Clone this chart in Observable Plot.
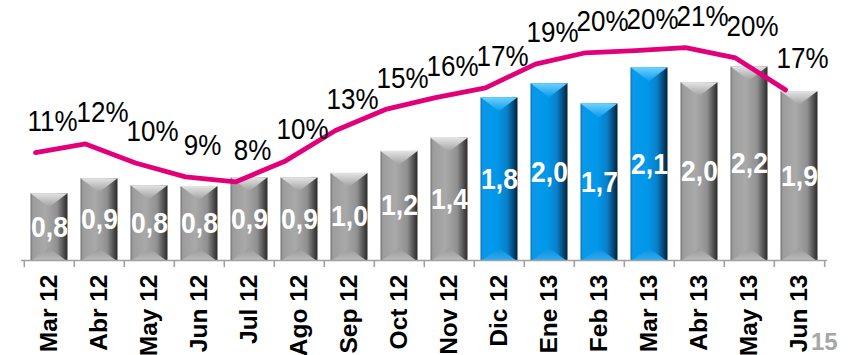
<!DOCTYPE html>
<html>
<head>
<meta charset="utf-8">
<script src="https://cdn.jsdelivr.net/npm/d3@7"></script>
<script src="https://cdn.jsdelivr.net/npm/@observablehq/plot@0.6"></script>
<style>
  body { margin: 0; background: #fff; font-family: "Liberation Sans", Arial, sans-serif; }
  #wrap { position: relative; width: 860px; height: 355px; overflow: hidden; }
  #page { position: absolute; left: 811px; top: 330px; font-size: 24px; line-height: 24px; height: 24px; font-weight: bold; color: #a6a6a6; }
  #chart g[aria-label="x-axis tick label"] text { font-weight: bold; }
</style>
</head>
<body>
<div id="wrap">
  <div id="chart"></div>
  <div id="page">15</div>
</div>
<script>
// ---- data ----
const months = ["Mar 12","Abr 12","May 12","Jun 12","Jul 12","Ago 12","Sep 12","Oct 12",
                "Nov 12","Dic 12","Ene 13","Feb 13","Mar 13","Abr 13","May 13","Jun 13"];
const barValues = [0.76, 0.93, 0.85, 0.84, 0.94, 0.94, 0.99, 1.24, 1.39, 1.85, 2.01, 1.78, 2.19, 2.02, 2.20, 1.92];
const barLabels = ["0,8","0,9","0,8","0,8","0,9","0,9","1,0","1,2","1,4","1,8","2,0","1,7","2,1","2,0","2,2","1,9"];
const highlighted = ["Dic 12","Ene 13","Feb 13","Mar 13"];
const pctValues = [10.8, 11.65, 9.8, 8.45, 7.96, 10.0, 12.95, 15.0, 16.15, 17.1, 19.4, 20.5, 20.7, 21.0, 20.0, 16.9];
const pctLabels = ["11%","12%","10%","9%","8%","10%","13%","15%","16%","17%","19%","20%","20%","21%","20%","17%"];

const data = months.map((m, i) => ({
  month: m, value: barValues[i], label: barLabels[i],
  pct: pctValues[i], pctLabel: pctLabels[i], blue: highlighted.includes(m)
}));

// secondary (percentage) axis mapped onto the bar axis
const pctToBar = p => (10.3 * p - 3.4) / 88;
const step = (860 - 21 - 33) / months.length;

const chart = Plot.plot({
  width: 860,
  height: 355,
  marginLeft: 21,
  marginRight: 33,
  marginTop: 0,
  marginBottom: 95,
  style: { fontFamily: "'Liberation Sans', Arial, sans-serif", background: "white", overflow: "visible" },
  x: { domain: months, padding: 0, axis: null },
  y: { domain: [0, 2.955], axis: null },
  marks: [
    Plot.barY(data.filter(d => !d.blue), { x: "month", y: "value", fill: "url(#barGray)", insetLeft: 6.5, insetRight: 6.5 }),
    Plot.barY(data.filter(d => d.blue), { x: "month", y: "value", fill: "url(#barBlue)", insetLeft: 6.5, insetRight: 6.5 }),
    Plot.ruleY([0], { stroke: "#a0a0a0", strokeWidth: 1.6 }),
    Plot.ruleX(months, { x: d => d, y1: 0, y2: -0.08, dx: -step / 2, stroke: "#a0a0a0", strokeWidth: 1.6 }),
    Plot.ruleX([months[months.length - 1]], { x: d => d, y1: 0, y2: -0.08, dx: step / 2, stroke: "#a0a0a0", strokeWidth: 1.6 }),
    Plot.axisX({ anchor: "bottom", tickSize: 0, tickPadding: 14, tickRotate: -90, fontSize: 24.5, fontWeight: "bold", fill: "black", label: null }),
    Plot.line(data, { x: "month", y: d => pctToBar(d.pct), dx: -14, stroke: "#e2007a", strokeWidth: 4.8, strokeLinejoin: "round", strokeLinecap: "round" }),
    Plot.text(data, { x: "month", y: d => d.value / 2, text: "label", fill: "white", fontSize: 26.5, fontWeight: "bold" }),
    Plot.text(data, { x: "month", y: d => pctToBar(d.pct), text: "pctLabel", dy: -31, dx: 3, fill: "black", fontSize: 26 })
  ]
});
document.getElementById("chart").appendChild(chart);

// ---- gradients for the bevelled 3D bar look ----
const svg = d3.select(chart);
const defs = svg.insert("defs", ":first-child");
function grad(id, horizontal, stops) {
  const g = defs.append("linearGradient").attr("id", id)
    .attr("x1", 0).attr("y1", 0).attr("x2", horizontal ? 1 : 0).attr("y2", horizontal ? 0 : 1);
  stops.forEach(([o, c]) => g.append("stop").attr("offset", o).attr("stop-color", c));
}
grad("barGray", true, [[0, "#6e6e6e"], [0.06, "#9c9c9c"], [0.4, "#a9a9a9"], [0.72, "#909090"], [0.9, "#4e4e4e"], [1, "#2a2a2a"]]);
grad("barBlue", true, [[0, "#0a6fb0"], [0.06, "#0a98ea"], [0.45, "#0098ea"], [0.72, "#0a7fc8"], [0.9, "#04456f"], [1, "#01203a"]]);
grad("topGray", false, [[0, "#e4e4e4"], [1, "#a0a0a0"]]);
grad("topBlue", false, [[0, "#6fd2ff"], [1, "#0a9aec"]]);
grad("botGray", false, [[0, "#999999"], [1, "#b9b9b9"]]);
grad("botBlue", false, [[0, "#0a8fdc"], [1, "#2cabf2"]]);

svg.selectAll('g[aria-label="bar"]').nodes().forEach(node => {
  const g = d3.select(node);
  const blue = g.attr("fill") === "url(#barBlue)";
  g.selectAll("rect").nodes().forEach(r => {
    const x = +r.getAttribute("x"), y = +r.getAttribute("y");
    const w = +r.getAttribute("width"), h = +r.getAttribute("height");
    g.append("polygon")
      .attr("points", `${x},${y} ${x + w},${y} ${x + w / 2},${y + 14}`)
      .attr("fill", blue ? "url(#topBlue)" : "url(#topGray)");
    g.append("polygon")
      .attr("points", `${x + 2},${y + h} ${x + w - 2},${y + h} ${x + w / 2},${y + h - 12}`)
      .attr("fill", blue ? "url(#botBlue)" : "url(#botGray)");
  });
});

// the reference's lettering is slightly taller than wide: stretch labels vertically
svg.selectAll('g[aria-label="text"] text').nodes().forEach(t => {
  const tr = t.getAttribute("transform");
  if (tr) t.setAttribute("transform", tr + " scale(1,1.12)");
});
</script>
</body>
</html>
